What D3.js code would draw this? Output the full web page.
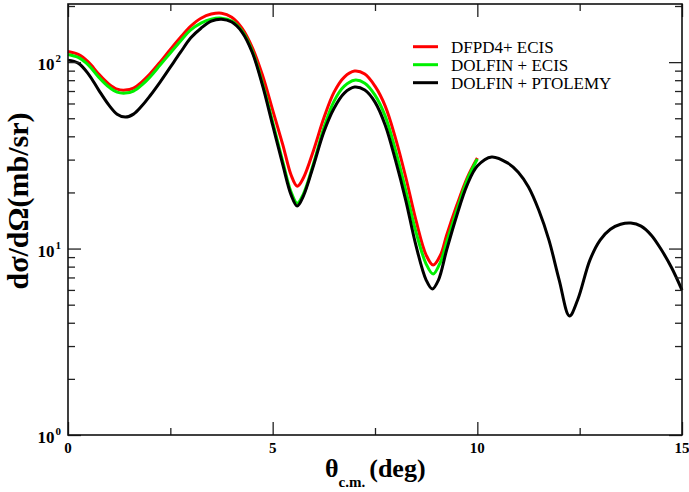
<!DOCTYPE html>
<html>
<head>
<meta charset="utf-8">
<script src="https://cdn.jsdelivr.net/npm/d3@7"></script>
<style>
  body { margin: 0; background: #fff; }
  svg { display: block; }
  text { font-family: "Liberation Serif", "Times New Roman", serif; }
</style>
</head>
<body>
<svg id="chart" width="689" height="492"></svg>
<script>
// cross sections (mb/sr vs theta c.m. in deg)
var theta_red = [0, 0.25, 0.5, 0.75, 1, 1.2, 1.4, 1.6, 1.8, 2, 2.25, 2.5, 2.75, 3, 3.25, 3.5, 3.75, 4, 4.25, 4.5, 4.75, 5, 5.25, 5.45, 5.6, 5.75, 6, 6.25, 6.5, 6.75, 7, 7.25, 7.5, 7.75, 8, 8.25, 8.5, 8.75, 8.92, 9.1, 9.25, 9.5, 9.75, 10];
var xs_red = [114, 110, 100, 86.3, 76.2, 71.6, 70.8, 72.6, 78.2, 86.3, 100, 117, 136, 156, 172, 181, 183, 174, 152, 120, 85.2, 55.3, 35.9, 24.8, 21.6, 23.9, 33.7, 50.1, 69.0, 83.1, 89.5, 86.3, 74.3, 58.1, 39.1, 24.2, 14.2, 9.23, 8.16, 9.23, 11.8, 17.1, 23.9, 30.6];

var theta_green = [0, 0.25, 0.5, 0.75, 1, 1.2, 1.4, 1.6, 1.8, 2, 2.25, 2.5, 2.75, 3, 3.25, 3.5, 3.75, 4, 4.25, 4.5, 4.75, 5, 5.25, 5.45, 5.6, 5.75, 6, 6.25, 6.5, 6.75, 7, 7.25, 7.5, 7.75, 8, 8.25, 8.5, 8.75, 8.92, 9.1, 9.25, 9.5, 9.75, 10];
var xs_green = [110, 106, 96.4, 83.1, 73.5, 69.0, 68.2, 69.9, 75.3, 83.1, 96.4, 112, 130, 149, 162, 170, 172, 166, 147, 115, 77.1, 47.7, 29.1, 20.1, 17.5, 19.6, 28.7, 44.3, 61.8, 74.3, 80.0, 77.1, 66.5, 51.3, 33.7, 20.6, 12.3, 8.26, 7.30, 8.47, 10.8, 16.1, 23.3, 30.2];

var theta_black = [0, 0.25, 0.5, 0.75, 1, 1.2, 1.4, 1.6, 1.8, 2, 2.25, 2.5, 2.75, 3, 3.25, 3.5, 3.75, 4, 4.25, 4.5, 4.75, 5, 5.25, 5.45, 5.6, 5.75, 6, 6.25, 6.5, 6.75, 7, 7.25, 7.5, 7.75, 8, 8.25, 8.5, 8.75, 8.9, 9.05, 9.25, 9.5, 9.75, 10, 10.35, 10.75, 11, 11.25, 11.5, 11.75, 12, 12.25, 12.45, 12.75, 13, 13.25, 13.5, 13.75, 14, 14.25, 14.5, 14.75, 15];
var xs_black = [102.5, 98.8, 86.3, 70.8, 58.8, 52.6, 50.7, 52.6, 58.1, 65.8, 78.2, 94.0, 113, 135, 152, 166, 170, 164, 145, 113, 75.3, 45.9, 28.0, 19.4, 16.9, 19.1, 28.0, 42.2, 56.6, 68.2, 73.5, 70.8, 61.0, 45.9, 29.8, 18.2, 10.4, 6.78, 6.07, 6.78, 9.82, 15.1, 21.9, 27.7, 31.0, 28.7, 25.7, 21.4, 16.1, 11.1, 6.78, 4.35, 5.30, 8.67, 11.1, 12.7, 13.5, 13.7, 13.2, 11.8, 9.82, 7.86, 5.98];

var series_names = ['DFPD4+ ECIS', 'DOLFIN + ECIS', 'DOLFIN + PTOLEMY'];
var series_colors = ['#ff0000', '#00f000', '#000000'];

var x_major = [0, 5, 10, 15];
var x_minor = [2.5, 7.5, 12.5];
var y_major = [1, 10, 100];
var y_minor = [2, 3, 4, 5, 6, 7, 8, 9, 20, 30, 40, 50, 60, 70, 80, 90, 200];

var svg = d3.select('#chart');
var m = { left: 68, right: 682, top: 4, bottom: 435 };

var x = d3.scaleLinear().domain([0, 15]).range([m.left, m.right]);
var y = d3.scaleLog().domain([1, 205]).range([m.bottom, m.top]);

// curves
var line = d3.line()
    .x((d) => x(d[0]))
    .y((d) => y(d[1]))
    .curve(d3.curveCatmullRom.alpha(0.5));

var curves = [
  d3.zip(theta_red, xs_red),
  d3.zip(theta_green, xs_green),
  d3.zip(theta_black, xs_black)
];

svg.append('g')
  .selectAll('path')
  .data(curves)
  .enter().append('path')
  .attr('d', line)
  .attr('fill', 'none')
  .attr('stroke', (d, i) => series_colors[i])
  .attr('stroke-width', 3)
  .attr('stroke-linejoin', 'round');

// ticks, all pointing inward
var tick = (axis, vals, len) => axis.tickValues(vals).tickSizeInner(len).tickSizeOuter(0).tickFormat('');

[[d3.axisBottom, m.bottom], [d3.axisTop, m.top]].forEach((a) => {
  let [mk, pos] = a;
  svg.append('g').attr('transform', `translate(0,${ pos })`).call(tick(mk(x), x_major, -13));
  svg.append('g').attr('transform', `translate(0,${ pos })`).call(tick(mk(x), x_minor, -7));
});

[[d3.axisLeft, m.left], [d3.axisRight, m.right]].forEach((a) => {
  let [mk, pos] = a;
  svg.append('g').attr('transform', `translate(${ pos },0)`).call(tick(mk(y), y_major, -13));
  svg.append('g').attr('transform', `translate(${ pos },0)`).call(tick(mk(y), y_minor, -7));
});

svg.selectAll('.domain').remove();
svg.selectAll('.tick line').attr('stroke', '#222').attr('stroke-width', 1.3);

// frame
svg.append('rect')
  .attr('x', m.left).attr('y', m.top)
  .attr('width', m.right - m.left).attr('height', m.bottom - m.top)
  .attr('fill', 'none')
  .attr('stroke', '#111')
  .attr('stroke-width', 1.6);

// tick labels
svg.append('g')
  .selectAll('text')
  .data(x_major)
  .enter().append('text')
  .attr('x', (d) => x(d))
  .attr('y', 453)
  .attr('text-anchor', 'middle')
  .attr('font-size', 15)
  .attr('font-weight', 'bold')
  .text((d) => d);

var yl = svg.append('g')
  .selectAll('text')
  .data(y_major)
  .enter().append('text')
  .attr('x', 61)
  .attr('y', (d) => y(d) + 8)
  .attr('text-anchor', 'end')
  .attr('font-weight', 'bold');
yl.append('tspan').attr('font-size', 17).text('10');
yl.append('tspan').attr('font-size', 11).attr('dy', -8).attr('dx', 1).text((d) => Math.round(Math.log10(d)));

// axis titles
var xt = svg.append('text')
  .attr('x', 325)
  .attr('y', 477)
  .attr('font-weight', 'bold');
xt.append('tspan').attr('font-size', 26).text('θ');
xt.append('tspan').attr('font-size', 15).attr('dy', 10).text('c.m.');
xt.append('tspan').attr('font-size', 26).attr('dy', -10).attr('dx', 4).text('(deg)');

svg.append('text')
  .attr('transform', 'translate(28,201) rotate(-90)')
  .attr('text-anchor', 'middle')
  .attr('font-size', 30)
  .attr('font-weight', 'bold')
  .text('dσ/dΩ(mb/sr)');

// legend
var leg = svg.append('g')
  .selectAll('g')
  .data(series_names)
  .enter().append('g')
  .attr('transform', (d, i) => `translate(0,${ 46.7 + i * 18 })`);

leg.append('line')
  .attr('x1', 413).attr('x2', 438)
  .attr('stroke', (d, i) => series_colors[i])
  .attr('stroke-width', 3);

leg.append('text')
  .attr('x', 451)
  .attr('y', 6)
  .attr('font-size', 17)
  .text((d) => d);
</script>
</body>
</html>
